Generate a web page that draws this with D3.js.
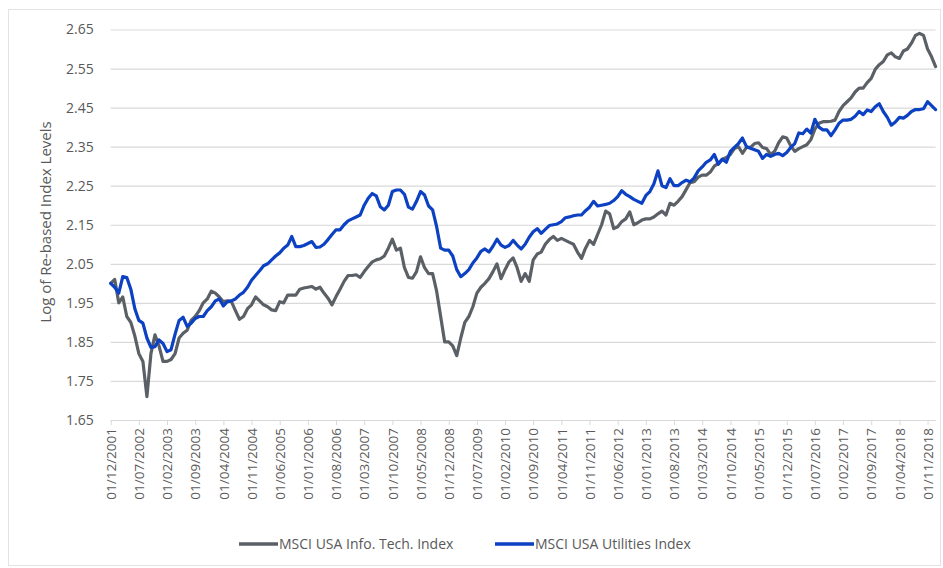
<!DOCTYPE html>
<html>
<head>
<meta charset="utf-8">
<script src="https://cdnjs.cloudflare.com/ajax/libs/d3/7.8.5/d3.min.js"></script>
<style>
body { margin: 0; background: #fff; }
text { font-family: "Open Sans", sans-serif; fill: #595959; }
</style>
</head>
<body>
<div id="chart"></div>
<script>
// monthly series, Dec 2001 .. Jan 2019 (log10 of re-based level)
const startMonth = new Date(2001, 11, 1);
const techValues = [
  2.00,2.01,1.95,1.965,1.915,1.90,1.865,1.82,1.80,1.71,
  1.82,1.868,1.84,1.80,1.80,1.805,1.82,1.86,1.872,1.88,
  1.905,1.915,1.93,1.95,1.96,1.98,1.975,1.965,1.953,1.955,
  1.953,1.93,1.908,1.915,1.935,1.945,1.965,1.955,1.945,1.94,
  1.932,1.93,1.953,1.95,1.97,1.97,1.97,1.985,1.988,1.99,
  1.992,1.985,1.99,1.975,1.962,1.945,1.966,1.985,2.005,2.02,
  2.02,2.022,2.015,2.03,2.043,2.055,2.06,2.063,2.07,2.09,
  2.113,2.085,2.09,2.04,2.015,2.013,2.03,2.068,2.04,2.025,
  2.025,1.98,1.915,1.85,1.85,1.84,1.815,1.86,1.90,1.915,
  1.94,1.975,1.99,2.00,2.012,2.03,2.05,2.012,2.035,2.055,
  2.065,2.04,2.005,2.025,2.005,2.06,2.075,2.08,2.10,2.112,
  2.12,2.11,2.115,2.11,2.105,2.10,2.08,2.064,2.09,2.11,
  2.10,2.125,2.15,2.185,2.178,2.14,2.145,2.158,2.165,2.183,
  2.15,2.155,2.162,2.165,2.165,2.17,2.178,2.185,2.175,2.205,
  2.20,2.21,2.222,2.24,2.258,2.26,2.272,2.277,2.277,2.285,
  2.30,2.307,2.318,2.322,2.33,2.345,2.35,2.333,2.348,2.348,
  2.358,2.36,2.348,2.345,2.33,2.338,2.36,2.375,2.372,2.352,
  2.338,2.345,2.35,2.355,2.368,2.395,2.41,2.414,2.414,2.415,
  2.418,2.44,2.455,2.465,2.475,2.49,2.50,2.50,2.514,2.525,
  2.548,2.56,2.568,2.585,2.59,2.58,2.576,2.595,2.60,2.615,
  2.635,2.64,2.635,2.60,2.58,2.555
];
const utilValues = [
  2.00,1.99,1.975,2.017,2.015,1.985,1.935,1.905,1.898,1.86,
  1.836,1.838,1.855,1.846,1.825,1.83,1.87,1.905,1.913,1.89,
  1.898,1.91,1.915,1.915,1.93,1.94,1.955,1.96,1.942,1.953,
  1.955,1.96,1.97,1.977,1.99,2.008,2.02,2.032,2.045,2.05,
  2.06,2.07,2.078,2.09,2.098,2.12,2.094,2.094,2.097,2.102,
  2.107,2.092,2.093,2.10,2.112,2.125,2.137,2.137,2.15,2.16,
  2.165,2.17,2.175,2.20,2.218,2.23,2.224,2.196,2.188,2.20,
  2.235,2.239,2.239,2.228,2.195,2.19,2.21,2.235,2.226,2.198,
  2.188,2.145,2.09,2.085,2.085,2.07,2.035,2.017,2.025,2.035,
  2.052,2.065,2.082,2.088,2.08,2.095,2.113,2.098,2.092,2.097,
  2.11,2.098,2.088,2.10,2.118,2.132,2.14,2.128,2.138,2.148,
  2.15,2.152,2.158,2.168,2.17,2.173,2.175,2.175,2.186,2.195,
  2.21,2.198,2.20,2.202,2.205,2.212,2.222,2.237,2.228,2.222,
  2.215,2.21,2.205,2.225,2.235,2.255,2.288,2.25,2.245,2.268,
  2.25,2.25,2.258,2.264,2.26,2.27,2.288,2.298,2.31,2.316,
  2.33,2.305,2.318,2.31,2.338,2.348,2.358,2.372,2.35,2.346,
  2.342,2.338,2.32,2.33,2.325,2.33,2.333,2.327,2.335,2.348,
  2.358,2.385,2.383,2.395,2.385,2.42,2.40,2.393,2.393,2.378,
  2.393,2.41,2.418,2.418,2.42,2.428,2.44,2.432,2.444,2.44,
  2.452,2.46,2.44,2.425,2.405,2.413,2.425,2.423,2.43,2.44,
  2.445,2.445,2.447,2.465,2.455,2.445
];
const yTicks = [1.65,1.75,1.85,1.95,2.05,2.15,2.25,2.35,2.45,2.55,2.65];
const seriesNames = ['MSCI USA Info. Tech. Index', 'MSCI USA Utilities Index'];
const seriesColors = ['#5a6066', '#0b41c2'];
const labelEvery = 7;

const W = 943, H = 568;
const months = d3.timeMonth.range(startMonth, d3.timeMonth.offset(startMonth, techValues.length));
const fmt = d3.timeFormat('%d/%m/%Y');

const svg = d3.select('#chart').append('svg').attr('width', W).attr('height', H);
svg.append('rect').attr('x', 8.5).attr('y', 9.5).attr('width', 932).attr('height', 556)
  .attr('fill', '#fff').attr('stroke', '#e3e3e3');

const x = d3.scaleLinear().domain([0, months.length - 1]).range([110.7, 935.6]);
const y = d3.scaleLinear().domain([1.65, 2.65]).range([420, 29.5]);

// gridlines + y labels
const ya = d3.axisLeft(y).tickValues(yTicks).tickFormat(d3.format('.2f'))
  .tickSize(-(x.range()[1] - x.range()[0])).tickPadding(17);
svg.append('g').attr('transform', 'translate(' + x.range()[0] + ',0)').call(ya).call(g => {
  g.select('.domain').remove();
  g.selectAll('.tick line').attr('stroke', '#d9d9d9').attr('stroke-width', 1.2);
  g.selectAll('.tick text').attr('font-size', 14).style('font-family', '"Open Sans", sans-serif').attr('fill', '#595959');
});

// category axis
const tickIdx = d3.range(0, months.length, labelEvery);
const xa = d3.axisBottom(x).tickValues(tickIdx).tickFormat(i => fmt(months[i])).tickSize(5).tickSizeOuter(0);
svg.append('g').attr('transform', 'translate(0,' + y(1.65) + ')').call(xa).call(g => {
  g.select('.domain').attr('stroke', '#d9d9d9').attr('stroke-width', 1.2);
  g.selectAll('.tick line').attr('stroke', '#d9d9d9');
  g.selectAll('.tick text').attr('font-size', 13.5).style('font-family', '"Open Sans", sans-serif')
    .attr('fill', '#595959').attr('text-anchor', 'end')
    .attr('transform', 'rotate(-90)').attr('x', -8).attr('y', 0).attr('dy', '0.35em');
});

// y title
svg.append('text').attr('transform', 'translate(51,' + 222 + ') rotate(-90)')
  .attr('text-anchor', 'middle').attr('font-size', 15).text('Log of Re-based Index Levels');

// series
const line = d3.line().x((d, i) => x(i)).y(d => y(d));
[techValues, utilValues].forEach((vals, k) => {
  svg.append('path').attr('d', line(vals)).attr('fill', 'none')
    .attr('stroke', seriesColors[k]).attr('stroke-width', 3.2)
    .attr('stroke-linejoin', 'round').attr('stroke-linecap', 'round');
});

// legend
const legX = [239, 495];
seriesNames.forEach((n, k) => {
  const g = svg.append('g').attr('transform', 'translate(' + legX[k] + ',544)');
  g.append('line').attr('x1', 0).attr('x2', 39).attr('stroke', seriesColors[k]).attr('stroke-width', 3.5);
  g.append('text').attr('x', 40).attr('dy', '0.35em').attr('font-size', 14).text(n);
});
</script>
</body>
</html>
